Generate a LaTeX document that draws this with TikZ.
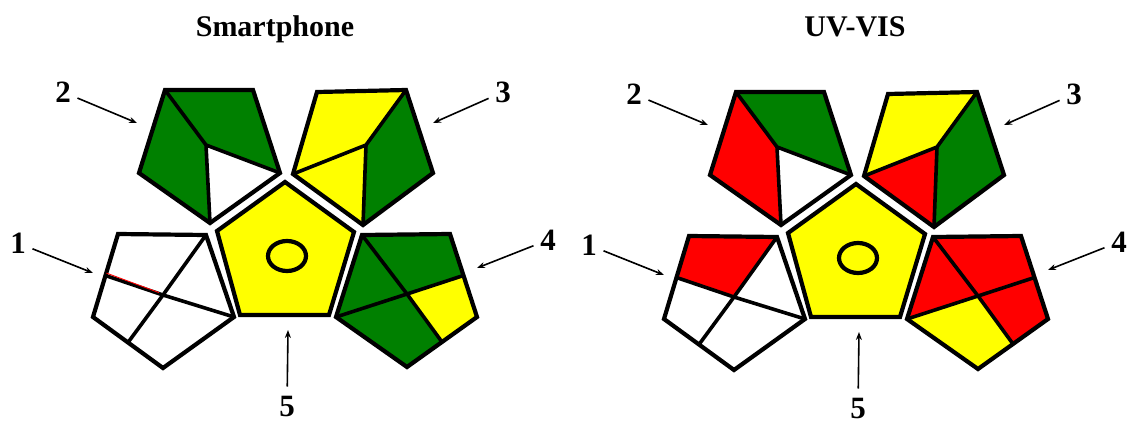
\documentclass[tikz,border=0pt]{standalone}
\usepackage{fontspec}
\setmainfont{Liberation Serif}
\usetikzlibrary{arrows.meta,calc}
\definecolor{dgreen}{RGB}{0,128,0}
\definecolor{yel}{RGB}{255,255,0}
\definecolor{rd}{RGB}{255,0,0}
\newcommand\pentagrid{%
  % pentagon 2
  \coordinate (p2a) at (165,90); \coordinate (p2b) at (253,90);
  \coordinate (p2c) at (280,173); \coordinate (p2d) at (210,223);
  \coordinate (p2e) at (139,173); \coordinate (p2i) at (206,145);
  \fill[f2l] (p2a)--(p2i)--(p2d)--(p2e)--cycle;
  \fill[f2t] (p2a)--(p2b)--(p2c)--(p2i)--cycle;
  \fill[f2w] (p2i)--(p2c)--(p2d)--cycle;
  % pentagon 3
  \coordinate (p3a) at (317,92); \coordinate (p3b) at (406,90);
  \coordinate (p3c) at (433,173); \coordinate (p3d) at (363,225);
  \coordinate (p3e) at (293,174); \coordinate (p3i) at (366,145);
  \fill[f3t] (p3a)--(p3b)--(p3i)--(p3e)--cycle;
  \fill[f3l] (p3e)--(p3i)--(p3d)--cycle;
  \fill[f3r] (p3b)--(p3c)--(p3d)--(p3i)--cycle;
  % pentagon 1
  \coordinate (p1a) at (118,234); \coordinate (p1b) at (206,235);
  \coordinate (p1c) at (234,317); \coordinate (p1d) at (163,368);
  \coordinate (p1e) at (93,317); \coordinate (p1i) at (163,295);
  \coordinate (p1m) at ($(p1a)!0.5!(p1e)$); \coordinate (p1n) at ($(p1e)!0.5!(p1d)$);
  \fill[f1t] (p1m)--(p1a)--(p1b)--(p1i)--cycle;
  \fill[f1r] (p1b)--(p1c)--(p1i)--cycle;
  \fill[f1b] (p1i)--(p1c)--(p1d)--(p1n)--cycle;
  \fill[f1l] (p1m)--(p1i)--(p1n)--(p1e)--cycle;
  % pentagon 5
  \coordinate (p5a) at (285,182); \coordinate (p5b) at (354,232);
  \coordinate (p5c) at (329,315); \coordinate (p5d) at (240,315);
  \coordinate (p5e) at (217,231);
  \fill[yel] (p5a)--(p5b)--(p5c)--(p5d)--(p5e)--cycle;
  % pentagon 4
  \coordinate (p4a) at (362,235); \coordinate (p4b) at (450,234);
  \coordinate (p4c) at (477,317); \coordinate (p4d) at (407,367);
  \coordinate (p4e) at (336,317); \coordinate (p4i) at (407,294);
  \coordinate (p4m) at ($(p4b)!0.5!(p4c)$); \coordinate (p4n) at ($(p4c)!0.5!(p4d)$);
  \fill[f4t] (p4a)--(p4b)--(p4m)--(p4i)--cycle;
  \fill[f4l] (p4a)--(p4i)--(p4e)--cycle;
  \fill[f4b] (p4e)--(p4i)--(p4n)--(p4d)--cycle;
  \fill[f4r] (p4i)--(p4m)--(p4c)--(p4n)--cycle;
  % inner lines
  \draw[innerln] (p2a)--(p2i)--(p2c) (p2i)--(p2d);
  \draw[innerln] (p3b)--(p3i)--(p3e) (p3i)--(p3d);
  \draw[innerln] (p1m)--(p1i)--(p1c) (p1b)--(p1i)--(p1n);
  \draw[innerln] (p4a)--(p4i)--(p4n) (p4e)--(p4i)--(p4m);
  % outlines
  \draw[outln] (p2a)--(p2b)--(p2c)--(p2d)--(p2e)--cycle;
  \draw[outln] (p3a)--(p3b)--(p3c)--(p3d)--(p3e)--cycle;
  \draw[outln] (p1a)--(p1b)--(p1c)--(p1d)--(p1e)--cycle;
  \draw[outln] (p5a)--(p5b)--(p5c)--(p5d)--(p5e)--cycle;
  \draw[outln] (p4a)--(p4b)--(p4c)--(p4d)--(p4e)--cycle;
  \draw[outln] (287,256) ellipse [x radius=19, y radius=15];
  % labels and arrows
  \node[lbl] (l2) at (63,92) {2};
  \node[lbl] (l3) at (503,92) {3};
  \node[lbl] (l1) at (18,243) {1};
  \node[lbl] (l4) at (548,240) {4};
  \node[lbl] (l5) at (287,406) {5};
  \coordinate (h2) at (137,123); \coordinate (h3) at (433,123);
  \coordinate (h1) at (93,273); \coordinate (h4) at (477,268);
  \coordinate (h5) at (288,330);
  \draw[arr] (l2) -- (h2);
  \draw[arr] (l3) -- (h3);
  \draw[arr] (l1) -- (h1);
  \draw[arr] (l4) -- (h4);
  \draw[arr,shorten <=8pt] (l5) -- (h5);
}
\begin{document}
\begin{tikzpicture}[x=1pt,y=-1pt,
  outln/.style={draw=black,line width=4.2pt,line join=miter},
  innerln/.style={draw=black,line width=3.6pt,line cap=butt},
  lbl/.style={font=\fontsize{31}{31}\selectfont\bfseries,inner sep=1pt},
  ttl/.style={font=\fontsize{30}{30}\selectfont\bfseries,anchor=base,inner sep=0pt},
  arr/.style={draw=black,line width=1.6pt,shorten <=6pt,-{Stealth[length=8pt,width=6pt]}}]
\useasboundingbox (0,0) rectangle (1127,423);
\node[ttl] (t1) at (275,36) {Smartphone};
\node[ttl] (t2) at (855,36) {UV-VIS};
\begin{scope}[
  f2l/.style={fill=dgreen}, f2t/.style={fill=dgreen}, f2w/.style={fill=white},
  f3t/.style={fill=yel}, f3l/.style={fill=yel}, f3r/.style={fill=dgreen},
  f1t/.style={fill=white}, f1r/.style={fill=white}, f1b/.style={fill=white}, f1l/.style={fill=white},
  f4t/.style={fill=dgreen}, f4l/.style={fill=dgreen}, f4b/.style={fill=dgreen}, f4r/.style={fill=yel}]
  \pentagrid
  \draw[rd,line width=0.9pt] ($(p1m)+(1,-2.4)$) -- ($(p1i)+(-4,-2.4)$);
\end{scope}
\begin{scope}[shift={(571,2)},
  f2l/.style={fill=rd}, f2t/.style={fill=dgreen}, f2w/.style={fill=white},
  f3t/.style={fill=yel}, f3l/.style={fill=rd}, f3r/.style={fill=dgreen},
  f1t/.style={fill=rd}, f1r/.style={fill=white}, f1b/.style={fill=white}, f1l/.style={fill=white},
  f4t/.style={fill=rd}, f4l/.style={fill=rd}, f4b/.style={fill=yel}, f4r/.style={fill=rd}]
  \pentagrid
\end{scope}
\end{tikzpicture}
\end{document}
